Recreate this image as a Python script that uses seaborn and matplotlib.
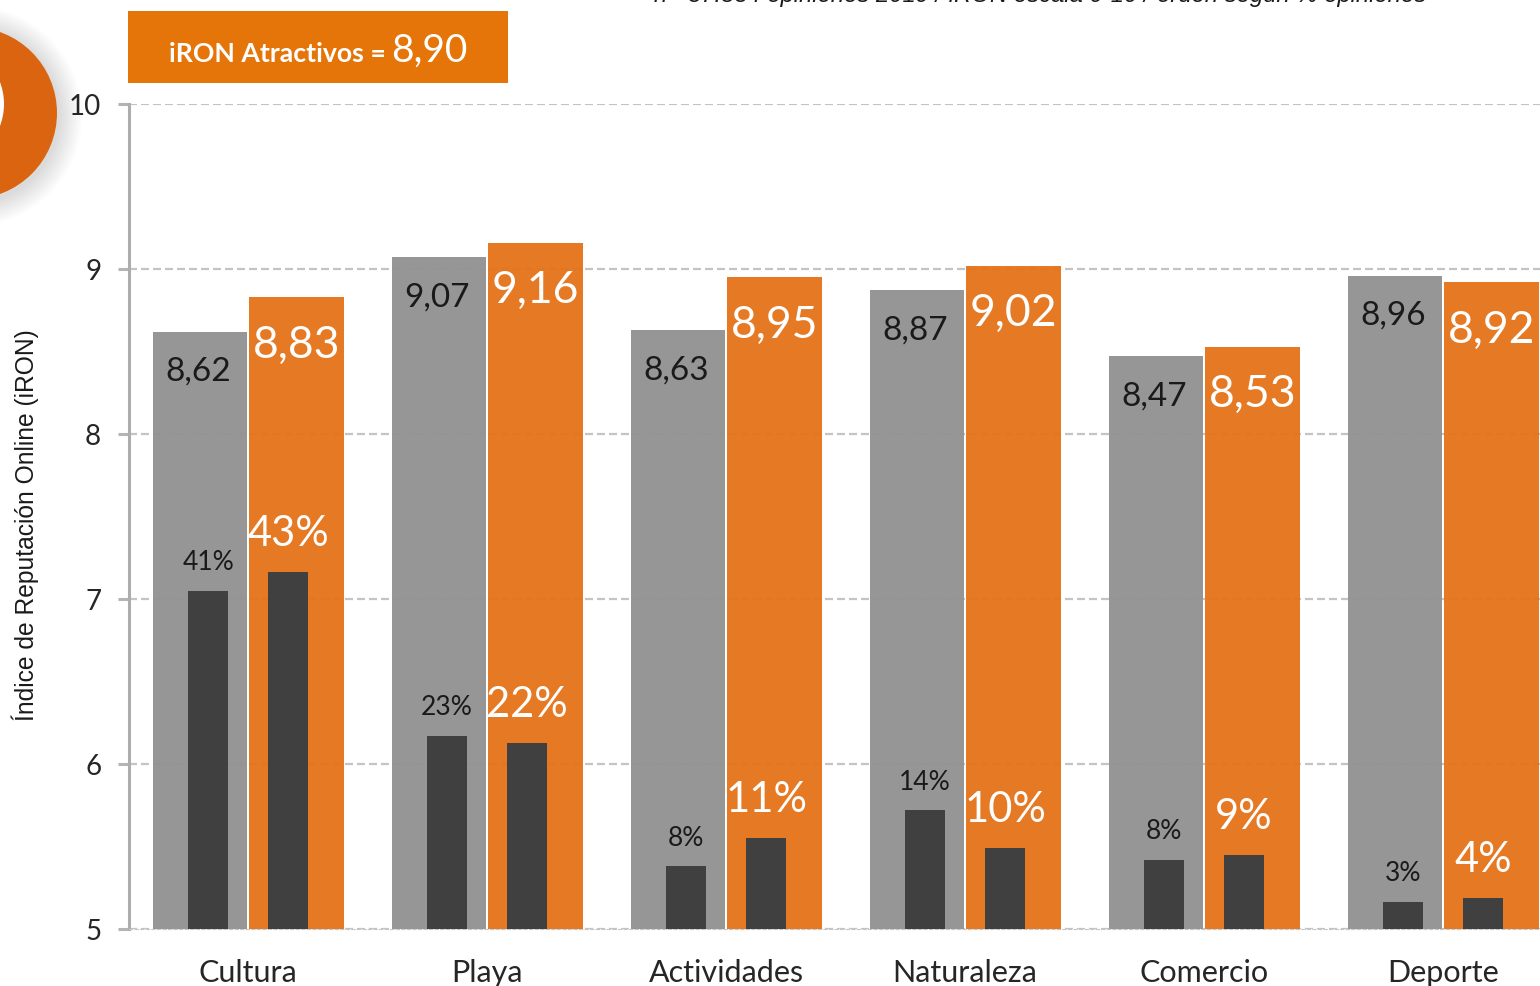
import matplotlib
matplotlib.use('Agg')
import matplotlib.pyplot as plt
import pandas as pd
import seaborn as sns
from matplotlib.patches import Circle, Rectangle

categories = ['Cultura', 'Playa', 'Actividades', 'Naturaleza', 'Comercio', 'Deporte']
group_names = ['A', 'B']
iron_a = [8.62, 9.07, 8.63, 8.87, 8.47, 8.96]
iron_b = [8.83, 9.16, 8.95, 9.02, 8.53, 8.92]
pct_a = [41.0, 23.4, 7.6, 14.4, 8.4, 3.3]
pct_b = [43.3, 22.5, 11.0, 9.8, 9.0, 3.8]
yticks = [5, 6, 7, 8, 9, 10]
total_label = 'iRON Atractivos = '
total_value = '8,90'
note = 'n= 37.534 opiniones 2019 / iRON escala 0-10 / orden según % opiniones'
ylabel = 'Índice de Reputación Online (iRON)'

GRAY = '#929292'
ORANGE = '#E5741A'
DARK = '#404040'
W, H = 1540, 987

sns.set_theme(style='white')
plt.rcParams['font.family'] = ['Lato', 'DejaVu Sans']

fig = plt.figure(figsize=(W / 100, H / 100), dpi=100, facecolor='white')
ax = fig.add_axes([129 / W, (H - 930) / H, (W - 129) / W, 825 / H])

# long tables for seaborn
iron_df = pd.DataFrame({'cat': categories * 2,
                        'group': [group_names[0]] * 6 + [group_names[1]] * 6,
                        'iron': iron_a + iron_b})
pct_df = pd.DataFrame({'cat': categories * 2,
                       'group': [group_names[0]] * 6 + [group_names[1]] * 6,
                       'pct': pct_a + pct_b})

ax.yaxis.grid(True, color='#c4c4c4', lw=1.6, linestyle=(0, (3.6, 1.8)))
ax.set_axisbelow(True)
sns.barplot(data=iron_df, x='cat', y='iron', hue='group', order=categories,
            hue_order=group_names, palette=[GRAY, ORANGE], width=0.805, gap=0.016,
            saturation=1, alpha=0.96, linewidth=0, legend=False, ax=ax)

# share of reviews goes on a hidden 0-100 axis
ax2 = ax.twinx()
sns.barplot(data=pct_df, x='cat', y='pct', hue='group', order=categories,
            hue_order=group_names, palette=[DARK, DARK], width=0.67, gap=0.5,
            saturation=1, linewidth=0, legend=False, ax=ax2)

ax.set_xlim(-0.4985, 5.4055)
ax.set_ylim(5, 10)
ax2.set_ylim(0, 100)
ax2.axis('off')

ax.set_yticks(yticks)
ax.set_yticklabels([str(t) for t in yticks], fontsize=20, color='#262626')
ax.tick_params(axis='y', length=8, width=2.2, color='#b4b4b4', pad=12, left=True)
ax.tick_params(axis='x', length=0, pad=21)
ax.set_xticks(range(len(categories)))
ax.set_xticklabels(categories, fontsize=22, color='#262626')
ax.set_xlabel('')
ax.set_ylabel('')
ax.spines['top'].set_visible(False)
ax.spines['right'].set_visible(False)
ax.spines['left'].set_color('#adadad')
ax.spines['left'].set_linewidth(2.2)
ax.spines['bottom'].set_color('#c6c6c6')
ax.spines['bottom'].set_linewidth(0.8)
ax.spines['bottom'].set_linestyle((0, (3, 2)))


def value_labels(axis, container, texts, dx, dy, size, color):
    for bar, txt in zip(container, texts):
        ax2.annotate(txt, (bar.get_x() + bar.get_width() / 2, bar.get_height()),
                     xycoords=axis.transData, xytext=(dx, dy), textcoords='offset pixels',
                     ha='center', va='center', fontsize=size, color=color,
                     annotation_clip=False)


fmt = lambda vals: [f'{v:.2f}'.replace('.', ',') for v in vals]
pct_fmt = lambda vals: [f'{v:.0f}%' for v in vals]
value_labels(ax, ax.containers[0], fmt(iron_a), -2, -39, 24, '#1a1a1a')
value_labels(ax, ax.containers[1], fmt(iron_b), 0, -47, 32, 'white')
value_labels(ax2, ax2.containers[0], pct_fmt(pct_a), 0, 29, 19, '#1a1a1a')
value_labels(ax2, ax2.containers[1], pct_fmt(pct_b), 0, 39, 30, 'white')

# banner, note, axis title
fig.add_artist(Rectangle((128 / W, (H - 83.5) / H), 380 / W, 72 / H,
                         transform=fig.transFigure, color='#E57509', lw=0))
fig.text(169 / W, (H - 62) / H, total_label, color='white', fontsize=19.2,
         fontweight='bold', va='baseline', ha='left')
fig.text(391 / W, (H - 62) / H, total_value, color='white', fontsize=28,
         va='baseline', ha='left')
fig.text(1040 / W, (H - 2) / H, note, fontsize=17.2, style='italic',
         family=['Liberation Sans'], color='#1a1a1a', ha='center', va='baseline')
fig.text(25 / W, (H - 525) / H, ylabel, rotation=90, fontsize=17.7,
         family=['Liberation Sans'], color='#1a1a1a', ha='center', va='center')

# pin marker cut by the left edge, with a soft shadow
px = fig.dpi_scale_trans
for extra in range(24, 0, -2):
    fig.add_artist(Circle((-28 / 100, (H - 117) / 100), (86 + extra) / 100,
                          transform=px, color='black', alpha=0.011, lw=0))
fig.add_artist(Circle((-29 / 100, (H - 114) / 100), 86 / 100, transform=px,
                      color='#DA6410', lw=0))
fig.add_artist(Circle((-58 / 100, (H - 105) / 100), 62 / 100, transform=px,
                      color='white', lw=0))

fig.savefig('out.png', dpi=100)
